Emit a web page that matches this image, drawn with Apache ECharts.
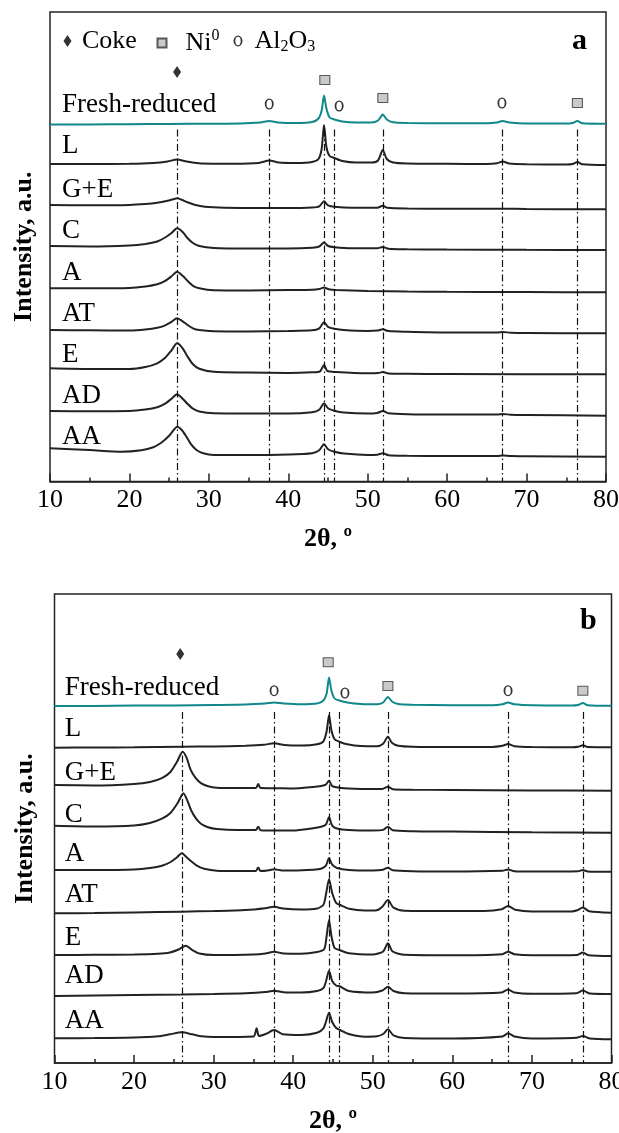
<!DOCTYPE html>
<html>
<head>
<meta charset="utf-8">
<script src="https://cdn.jsdelivr.net/npm/echarts@6/dist/echarts.min.js"></script>
<style>
  html, body { margin: 0; padding: 0; background: #fff; }
  #chart { width: 619px; height: 1133px; }
</style>
</head>
<body>
<div id="chart"></div>
<script>
// sample names, top to bottom
var sampleNames = ['Fresh-reduced', 'L', 'G+E', 'C', 'A', 'AT', 'E', 'AD', 'AA'];

// vertical stacking offsets (a.u.)
var offsetsA = [357, 316.5, 272.2, 231.5, 189.2, 148.2, 107.2, 65.8, 24.8];
var offsetsB = [357.5, 315.7, 272.3, 230.3, 191.3, 150.3, 107, 69, 23.7];

// reference reflections, 2θ
var refAngles = [26, 37.6, 44.5, 45.8, 51.9, 67, 76.4];

// phase markers [2θ, height]
var cokeMarksA = [[26, 409.5]];
var niMarksA = [[44.6, 401.5], [51.9, 383.5], [76.4, 378.5]];
var alMarksA = [[37.6, 377.5], [46.4, 375.5], [66.9, 378.5]];
var cokeMarksB = [[25.8, 409]];
var niMarksB = [[44.4, 400.7], [51.9, 377], [76.4, 372.3]];
var alMarksB = [[37.6, 372.3], [46.5, 370], [67, 372.3]];

// panel a patterns [2θ, intensity above offset]
var freshA = [[10,0],[15,0],[20,0.3],[25,0.5],[30,0.8],[34,1],[36.5,2],[37.6,3.5],[38.7,2],[41,1.5],[43,2.5],[43.8,6],[44.2,14],[44.5,29],[44.8,16],[45.2,7],[45.8,5],[46.8,3],[48.5,2],[50.5,2],[51.3,4],[51.9,10],[52.4,5],[53.2,2.2],[55,1.5],[60,1.3],[65,1.2],[66.3,2],[67,3.5],[67.8,2],[70,1],[75,1],[75.8,1.6],[76.4,3.5],[77,1.3],[80,0.8]];
var lA = [[10,1],[15,1],[20,1.2],[23,2],[24.8,3.5],[26,5.5],[27.2,3.5],[29,1.5],[33,1.3],[36.3,2],[37.6,4.5],[38.8,2.5],[41,2],[43,3],[43.8,6],[44.2,16],[44.5,40],[44.8,18],[45.2,9],[45.8,7],[46.8,4],[48.5,2.5],[50.5,2.5],[51.3,4.5],[51.9,15],[52.4,6],[53.2,2.5],[55,1.5],[60,1.2],[65,1],[66.3,1.8],[67,3.5],[67.8,1.5],[70,0.8],[75,0.5],[75.8,1],[76.4,3],[77,0.8],[80,0]];
var geA = [[10,4.3],[15,4],[20,4.3],[22,5.2],[23.5,6.5],[24.8,8.5],[25.5,10],[26,11],[26.6,9.5],[27.3,7],[28.2,4.5],[29.5,2.5],[32,1.5],[36,1.3],[40,1.2],[43,1.8],[43.9,3],[44.5,8],[45,4],[45.8,2.5],[48,1.5],[51.2,1.6],[51.9,3.5],[52.5,1.5],[55,0.8],[60,0.6],[67,0.6],[70,0.3],[80,0]];
var cA = [[10,4],[15,3.5],[20,4.5],[22,6],[23.5,8.5],[24.5,12.5],[25.3,17],[26,21.7],[26.7,18],[27.3,12],[28,7],[28.8,4],[30.6,2],[35,1.5],[40,1.5],[43,2.2],[43.9,3.5],[44.5,7.5],[45,4],[45.8,2.8],[48,1.7],[51.2,1.8],[51.9,3],[52.6,1.3],[55,0.8],[60,0.5],[70,0.2],[80,0]];
var aA = [[10,4],[15,4],[20,4.3],[22,5.8],[23.5,8],[24.5,11.5],[25.3,16],[26,20.5],[26.7,16.5],[27.3,11.5],[28,6.5],[28.8,4],[30.6,2],[35,1.8],[40,2.2],[43,2.5],[43.9,3.2],[44.5,4.8],[45.1,3],[46,2.3],[50,1.3],[55,0.8],[60,0.5],[70,0.3],[80,0]];
var atA = [[10,3.3],[15,3],[20,2.8],[22,3.8],[23.5,5.5],[24.5,8],[25.3,11.5],[26,15],[26.7,12],[27.3,8.5],[28,5],[28.8,3.2],[30.6,2],[35,1.8],[40,2.3],[43,3],[43.9,5],[44.5,11],[45,6.5],[45.8,4.5],[47,3.2],[50,2.3],[51.2,2.7],[51.9,4],[52.6,2.2],[55,1.5],[60,0.8],[66.3,0.8],[67,1.3],[68,0.6],[70,0.3],[80,0]];
var eA = [[10,6],[15,5.3],[20,5.3],[22,7.3],[23.5,11],[24.5,16.5],[25.3,24],[26,31],[26.7,26],[27.3,18],[28,10],[28.8,5.5],[30.6,2.5],[35,1.8],[40,1.3],[43,2],[44,3],[44.5,9.3],[44.9,3.5],[46,2.3],[50,1],[51.3,1.2],[51.9,2.2],[52.6,0.8],[55,0.5],[60,0.3],[80,0]];
var adA = [[10,4.7],[15,4.5],[20,4.7],[22,6.2],[23.5,8.5],[24.5,12],[25.3,17],[26,21.4],[26.7,17],[27.3,12],[28,7],[28.8,4.2],[30.6,2.4],[35,2.2],[40,2.2],[43,3.5],[43.9,6],[44.5,12.4],[45,7.5],[45.8,5],[47,3.2],[50,2.2],[51.2,2.8],[51.9,4.7],[52.6,2.4],[55,1.5],[60,1.2],[66.3,1.2],[67,1.7],[68,1],[70,0.7],[80,0]];
var aaA = [[10,8.4],[15,6.7],[19,5],[21.5,6.5],[23,9.5],[24,14],[25,21],[25.6,27],[26,30],[26.5,27.5],[27.1,21],[27.7,13],[28.4,7],[29.3,3.5],[30.6,1.8],[35,1.7],[40,2.2],[43,3.5],[43.9,6.5],[44.5,12.4],[45,7.5],[45.8,5],[47,3.2],[50,1.8],[51.2,2],[51.9,3.4],[52.6,1.5],[55,1],[60,0.7],[66.3,0.8],[67,1.3],[68,0.6],[70,0.4],[80,0]];

// panel b patterns
var freshB = [[10,-0.5],[15,-0.5],[20,0],[25,0],[30,0.5],[34,1],[36.5,2],[37.6,3],[38.8,2],[41,1.3],[43,2],[43.8,5],[44.2,12],[44.5,28],[44.8,15],[45.2,7],[45.8,5],[46.8,3],[48.5,1.5],[50.5,1.2],[51.3,3],[51.9,8.5],[52.4,4],[53.2,1.5],[55,0.8],[60,0.3],[65,0.3],[66.3,1.2],[67,3],[67.8,1.2],[70,0.2],[75,0],[75.8,0.5],[76.4,2.5],[77,0.3],[80,-0.3]];
var lB = [[10,-0.4],[15,-0.2],[20,0],[26,0.6],[30,0.8],[34,1.5],[36.3,2.5],[37.6,4],[38.9,2.3],[41,1.8],[43,3],[43.8,6],[44.2,16],[44.5,32],[44.8,17],[45.2,8],[45.8,5.6],[46.8,3],[48.5,1.2],[50.5,1],[51.3,3.5],[51.9,10.6],[52.4,4.5],[53.2,1.5],[55,0.5],[60,0.2],[65,0.3],[66.3,1.5],[67,3.3],[67.8,1],[70,0.2],[75,0],[75.8,0.5],[76.4,2],[77,0.2],[80,0]];
var geB = [[10,5.7],[15,5.2],[20,6.7],[22,8.7],[23.5,12.5],[24.6,19],[25.4,29],[26.1,39],[26.6,33],[27.1,21],[27.7,13],[28.4,7.5],[29.3,4.5],[30.4,3],[33,2.7],[35.3,2.7],[35.6,6.7],[35.9,2.7],[38,2.5],[40,2.2],[42.5,3.7],[43.5,4.7],[44.1,6],[44.5,10],[44.9,4.5],[45.8,3],[47,2.2],[50,1.7],[51.3,2],[51.9,4],[52.5,1.5],[55,1],[60,0.7],[70,0.2],[80,0]];
var cB = [[10,7],[15,6.2],[20,7.2],[22,9.7],[23.5,14],[24.6,20],[25.5,30],[26.2,39.4],[26.7,32],[27.2,22],[27.8,14],[28.4,9],[29.3,5.5],[30.4,3.7],[33,2.7],[35.3,2.7],[35.6,6],[35.9,2.5],[38,2.2],[40,2.2],[42.5,4.5],[43.5,6],[44.1,8],[44.5,15.4],[44.9,7],[45.5,4.2],[47,2.7],[50,2.2],[51.3,2.8],[51.9,6],[52.5,2.5],[55,1.5],[60,1.2],[70,0.4],[80,0]];
var aB = [[10,1.7],[15,1.7],[20,2.2],[22,3.7],[23.5,6],[24.6,9.7],[25.4,14.5],[26,18.4],[26.6,14.5],[27.3,9.7],[28,5.5],[28.8,3],[30.4,1],[33,0.7],[35.3,0.7],[35.6,4.2],[35.9,0.8],[36.8,1.3],[37.6,2.4],[38.6,1.3],[40,1.2],[42.5,2],[43.5,3],[44.1,6],[44.5,13.4],[44.9,7],[45.5,3.7],[47,1.7],[50,1.2],[51.3,2],[51.9,4],[52.5,1.5],[55,0.5],[60,0.2],[66.3,1],[67,2.2],[67.8,0.5],[70,0.2],[75.8,0.5],[76.4,1.7],[77,0.3],[80,0]];
var atB = [[10,-0.6],[15,-0.3],[20,0.2],[26,1],[30,1.7],[34,2.7],[36.5,4.5],[37.6,6],[38.7,4.2],[41,3.2],[43,4.2],[43.8,8],[44.1,17.7],[44.5,33.4],[44.9,19.7],[45.4,9.7],[45.9,7.7],[47,4],[49,2.2],[50.5,2.5],[51.2,6],[51.9,12.7],[52.6,5],[54,2],[60,1.7],[64,1.8],[66.2,3.5],[67,6.7],[67.9,3],[70,1.2],[75,1.3],[75.7,2.5],[76.4,5.2],[77.2,1.5],[80,0]];
var eB = [[10,1],[15,1.2],[20,1.5],[23,2.2],[24.5,3.5],[25.6,6.5],[26.5,10.3],[27.3,6],[28.2,2.5],[30,1],[35,1.5],[36.5,2.5],[37.6,4.3],[38.8,2.5],[41,2.3],[43,4],[43.9,7],[44.2,20],[44.5,36],[44.8,20],[45.2,8],[45.8,6],[47,2.8],[50,1.5],[51.3,4.5],[51.9,12.7],[52.5,4.5],[54,1.2],[60,0.7],[66.3,1.8],[67,4.3],[67.8,1.8],[70,0.7],[75.7,1],[76.4,3.5],[77.1,0.8],[80,0]];
var adB = [[10,-2],[15,-1.5],[20,-1],[26,-0.5],[30,0],[34,0.8],[36.5,2],[37.6,3.3],[38.8,1.8],[41,1.5],[43,3],[43.8,6],[44.1,12],[44.5,23.3],[44.9,13],[45.4,8.5],[45.9,7.5],[47,3],[50,1.5],[51.2,3.5],[51.9,7.3],[52.6,3],[54,0.8],[60,0.5],[66.2,1.5],[67,4.5],[67.8,1.5],[70,0.3],[75.6,0.8],[76.4,3.5],[77.3,0.5],[80,0]];
var aaB = [[10,1],[15,1.3],[20,1.8],[23,3],[24.5,5],[26,7],[27.3,5],[28.5,3],[30,2.3],[35,2.8],[35.4,11],[35.7,3.3],[36.6,5.5],[37.6,9.3],[38.7,5],[41,4.3],[43,6.5],[43.8,11],[44.1,17.3],[44.5,26.6],[44.9,17.3],[45.4,11.3],[45.9,9.3],[47,5.3],[49,2.6],[50.5,3],[51.3,5.3],[51.9,10],[52.6,4],[54,1.3],[60,0.8],[66.3,2.8],[67,6],[67.8,2.8],[70,0.8],[75.6,1.5],[76.4,3.3],[77.3,0.8],[80,0]];

var patternsA = [freshA, lA, geA, cA, aA, atA, eA, adA, aaA];
var patternsB = [freshB, lB, geB, cB, aB, atB, eB, adB, aaB];

var serif = '"Liberation Serif", "Times New Roman", serif';
var ink = '#222';
var teal = '#10888a';
var diamondPath = 'path://M4,0 L8,6 L4,12 L0,6 Z';
var squarePath = 'path://M0,0 H10 V10 H0 Z';
var ringPath = 'path://M5,0 A5,6 0 1,0 5,12 A5,6 0 1,0 5,0 Z M5,1.3 A3,4.7 0 1,1 5,10.7 A3,4.7 0 1,1 5,1.3 Z';

function buildPanel(k, offsets, patterns, dashTop, labelX, labelLift, coke, ni, al) {
  var out = [];
  sampleNames.forEach(function(name, i) {
    var s = {
      type: 'line',
      name: name,
      xAxisIndex: k,
      yAxisIndex: k,
      showSymbol: false,
      symbol: 'none',
      smooth: 0.25,
      silent: true,
      lineStyle: { width: 2, color: i === 0 ? teal : ink },
      itemStyle: { color: i === 0 ? teal : ink },
      data: patterns[i].map(function(p) { return [p[0], p[1] + offsets[i]]; }),
      markPoint: {
        silent: true,
        symbol: 'circle',
        symbolSize: 0,
        data: [{ coord: [labelX, offsets[i] + labelLift] }],
        label: {
          show: true, position: 'right', distance: 0, formatter: name,
          color: '#000', fontSize: 27, fontFamily: serif
        }
      }
    };
    if (i === 0) {
      s.markLine = {
        silent: true,
        symbol: ['none', 'none'],
        label: { show: false },
        lineStyle: { color: '#111', width: 1.2, type: [7, 3, 1.5, 3] },
        data: refAngles.map(function(x) { return [{ coord: [x, dashTop] }, { coord: [x, 0] }]; })
      };
    }
    out.push(s);
  });
  out.push({
    type: 'scatter', name: 'Coke', xAxisIndex: k, yAxisIndex: k, silent: true,
    symbol: diamondPath, symbolSize: [8, 12], itemStyle: { color: '#000' }, data: coke
  });
  out.push({
    type: 'scatter', name: 'Ni0', xAxisIndex: k, yAxisIndex: k, silent: true,
    symbol: 'rect', symbolSize: [10, 9],
    itemStyle: { color: '#bdbdbd', borderColor: '#333', borderWidth: 1 }, data: ni
  });
  out.push({
    type: 'scatter', name: 'Al2O3', xAxisIndex: k, yAxisIndex: k, silent: true,
    symbol: ringPath, symbolSize: [9, 11], itemStyle: { color: '#000' }, data: al
  });
  return out;
}

function xAxisFor(k) {
  return {
    gridIndex: k,
    type: 'value',
    min: 10,
    max: 80,
    interval: 10,
    name: '2\u03b8, \u00ba',
    nameLocation: 'middle',
    nameGap: 45,
    nameTextStyle: { fontSize: 26, fontWeight: 'bold', fontFamily: serif, color: '#000' },
    axisLine: { show: true, lineStyle: { color: '#222', width: 1.5 } },
    axisTick: { inside: true, length: 8, lineStyle: { color: '#222', width: 1.5 } },
    minorTick: { show: true, splitNumber: 2, length: 4, lineStyle: { color: '#222', width: 1.5 } },
    axisLabel: { margin: 6, fontSize: 26, fontFamily: serif, color: '#000' },
    splitLine: { show: false }
  };
}

function yAxisFor(k, top, gap) {
  return {
    gridIndex: k,
    type: 'value',
    min: 0,
    max: top,
    name: 'Intensity, a.u.',
    nameLocation: 'middle',
    nameRotate: 90,
    nameGap: gap,
    nameTextStyle: { fontSize: 26, fontWeight: 'bold', fontFamily: serif, color: '#000' },
    axisLine: { show: false },
    axisTick: { show: false },
    axisLabel: { show: false },
    splitLine: { show: false }
  };
}

var legendBase = {
  orient: 'horizontal',
  top: 23,
  itemWidth: 9,
  itemHeight: 12,
  selectedMode: false,
  textStyle: {
    fontSize: 26, fontFamily: serif, color: '#000',
    rich: {
      sup: { fontSize: 16, fontFamily: serif, color: '#000', padding: [0, 0, 14, 0] },
      sub: { fontSize: 16, fontFamily: serif, color: '#000', padding: [12, 0, 0, 0] }
    }
  },
  formatter: function(name) {
    if (name === 'Ni0') return 'Ni{sup|0}';
    if (name === 'Al2O3') return 'Al{sub|2}O{sub|3}';
    return name;
  }
};

function legendAt(left, name, icon, padLeft) {
  var l = JSON.parse(JSON.stringify(legendBase));
  l.formatter = legendBase.formatter;
  l.left = left;
  l.data = [{ name: name, icon: icon }];
  l.textStyle.padding = [0, 0, 0, padLeft];
  return l;
}

var chart = echarts.init(document.getElementById('chart'), null, { renderer: 'canvas' });
chart.setOption({
  animation: false,
  backgroundColor: '#fff',
  grid: [
    { left: 50, right: 13, top: 12, height: 469.5, outerBoundsMode: 'none',
      show: true, borderColor: '#222', borderWidth: 1.5 },
    { left: 54.5, right: 7.5, top: 594, height: 469, outerBoundsMode: 'none',
      show: true, borderColor: '#222', borderWidth: 1.5 }
  ],
  title: [
    { text: 'a', left: 567, top: 21, textStyle: { fontSize: 30, fontWeight: 'bold', fontFamily: serif, color: '#000' } },
    { text: 'b', left: 575, top: 601, textStyle: { fontSize: 30, fontWeight: 'bold', fontFamily: serif, color: '#000' } }
  ],
  legend: [
    legendAt(58.5, 'Coke', diamondPath, 5),
    legendAt(151.5, 'Ni0', squarePath, 14),
    legendAt(228.5, 'Al2O3', ringPath, 7)
  ],
  xAxis: [xAxisFor(0), xAxisFor(1)],
  yAxis: [yAxisFor(0, 469.5, 13), yAxisFor(1, 469, 16)],
  series: buildPanel(0, offsetsA, patternsA, 352, 11.5, 19.5, cokeMarksA, niMarksA, alMarksA)
    .concat(buildPanel(1, offsetsB, patternsB, 351, 11.3, 18, cokeMarksB, niMarksB, alMarksB))
});
</script>
</body>
</html>
